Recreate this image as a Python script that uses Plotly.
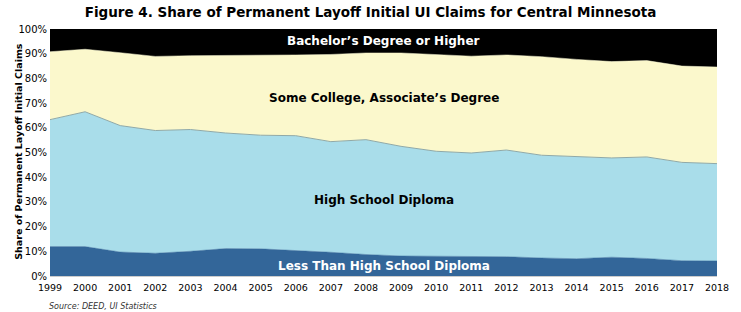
import plotly.graph_objects as go

years = list(range(1999, 2019))
less_than_hs = [11.9, 11.9, 9.7, 9.2, 10.0, 11.1, 11.0, 10.4, 9.6, 8.7, 8.1, 8.0, 7.9, 7.8, 7.3, 7.0, 7.6, 7.1, 6.2, 6.1]
high_school = [51.4, 54.6, 51.2, 49.7, 49.3, 46.8, 46.0, 46.4, 44.8, 46.5, 44.4, 42.5, 41.9, 43.2, 41.6, 41.2, 40.2, 41.1, 39.8, 39.4]
some_college = [27.5, 25.3, 29.5, 30.0, 29.9, 31.3, 32.3, 32.7, 35.3, 35.1, 37.8, 39.0, 39.2, 38.5, 39.9, 39.5, 39.0, 39.0, 39.0, 39.1]
bachelor = [9.2, 8.2, 9.6, 11.1, 10.8, 10.8, 10.7, 10.5, 10.3, 9.7, 9.7, 10.5, 11.0, 10.5, 11.2, 12.3, 13.2, 12.8, 15.0, 15.4]

series_names = ["Less Than High School Diploma", "High School Diploma",
                "Some College, Associate\u2019s Degree", "Bachelor\u2019s Degree or Higher"]
series_vals = [less_than_hs, high_school, some_college, bachelor]
fills = ["#336699", "#A9DDEA", "#FBF8CC", "#000000"]
line_cols = ["#336699", "#8FA9A8", "#FBF8CC", "#000000"]
line_w = [0.5, 1, 0.5, 0.5]
label_y = [4.1, 30.9, 71.9, 95.0]
label_col = ["white", "black", "black", "white"]

FONT = "DejaVu Sans"
fig = go.Figure()
for name, vals, fc, lc, lw in zip(series_names, series_vals, fills, line_cols, line_w):
    fig.add_trace(go.Scatter(x=years, y=vals, name=name, stackgroup="one", mode="lines",
                             line=dict(color=lc, width=lw), fillcolor=fc,
                             hoverinfo="x+y+name"))

for name, ly, col in zip(series_names, label_y, label_col):
    fig.add_annotation(x=2008.5, y=ly, xref="x", yref="y", text="<b>%s</b>" % name,
                       showarrow=False, font=dict(family=FONT, size=12, color=col))

fig.add_annotation(x=-40 / 672, y=0.506, xref="paper", yref="paper", textangle=-90,
                   text="<b>Share of Permanent Layoff Initial Claims</b>", showarrow=False,
                   font=dict(family=FONT, size=9.5, color="black"))
fig.add_annotation(x=-3 / 672, y=-30 / 247, xref="paper", yref="paper", xanchor="left",
                   yanchor="middle", text="<i>Source: DEED, UI Statistics</i>", showarrow=False,
                   font=dict(family=FONT, size=8, color="#333333"))

fig.update_layout(
    width=741, height=312,
    margin=dict(l=50, r=19, t=29, b=36),
    paper_bgcolor="white", plot_bgcolor="white",
    showlegend=False,
    title=dict(text="<b>Figure 4. Share of Permanent Layoff Initial UI Claims for Central Minnesota</b>",
               x=0.5, xanchor="center", y=1 - 12 / 312, yanchor="middle",
               font=dict(family=FONT, size=13.5, color="black")),
    xaxis=dict(range=[1999, 2018], tickmode="array", tickvals=years,
               ticktext=[str(y) for y in years], showgrid=False, zeroline=False,
               showline=True, linecolor="#cccccc", linewidth=1, ticks="",
               ticklabelstandoff=3,
               tickfont=dict(family=FONT, size=9.5, color="black")),
    yaxis=dict(range=[0, 100], tickmode="array", tickvals=list(range(0, 101, 10)),
               ticktext=["%d%%" % v for v in range(0, 101, 10)], showgrid=False,
               zeroline=False, showline=False, ticks="", ticklabelstandoff=2,
               tickfont=dict(family=FONT, size=10, color="black")),
)
fig.write_html("out.html")
